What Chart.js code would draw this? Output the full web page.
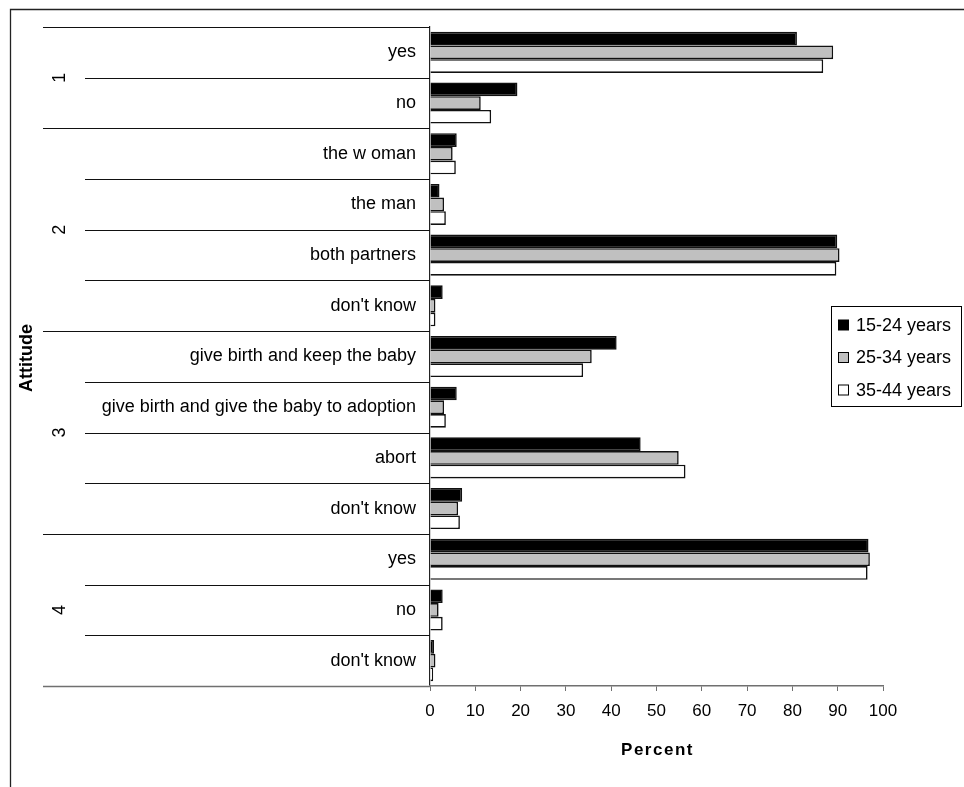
<!DOCTYPE html>
<html>
<head>
<meta charset="utf-8">
<title>Attitude by age group</title>
<script src="https://cdn.jsdelivr.net/npm/chart.js@4/dist/chart.umd.min.js"></script>
<style>
  html, body { margin: 0; padding: 0; background: #fff; }
  #wrap { position: relative; width: 964px; height: 787px; }
</style>
</head>
<body>
<div id="wrap"><canvas id="chart" width="964" height="787"></canvas></div>
<script>
// Answer categories, top to bottom
const categories = [
  'yes', 'no',
  'the w oman', 'the man', 'both partners', "don't know",
  'give birth and keep the baby', 'give birth and give the baby to adoption', 'abort', "don't know",
  'yes', 'no', "don't know"
];

// Question groups and how many answer categories each one spans
const groupNames = ['1', '2', '3', '4'];
const groupSizes = [2, 4, 4, 3];

// Share of respondents (%) per age group
const seriesNames = ['15-24 years', '25-34 years', '35-44 years'];
const age15to24 = [81.0, 19.3, 5.9, 2.1, 89.9, 2.8, 41.2, 5.9, 46.5, 7.1, 96.8, 2.8, 0.9];
const age25to34 = [89.0, 11.2, 5.0, 3.1, 90.4, 1.2, 35.7, 3.1, 54.9, 6.2, 97.1, 1.9, 1.2];
const age35to44 = [86.8, 13.5, 5.7, 3.5, 89.7, 1.2, 33.8, 3.5, 56.4, 6.6, 96.6, 2.8, 0.7];

// Percent axis ticks
const xTicks = [0, 10, 20, 30, 40, 50, 60, 70, 80, 90, 100];

const FONT = '"Liberation Sans", Arial, sans-serif';
const fills = ['#000000', '#c0c0c0', '#ffffff'];

// Frame, category separators, group labels, axis titles and legend
const decorations = {
  id: 'decorations',
  afterDraw(chart) {
    const ctx = chart.ctx;
    const area = chart.chartArea;
    const y = chart.scales.y;
    ctx.save();

    // outer frame (top and left edges)
    ctx.strokeStyle = '#222';
    ctx.lineWidth = 1.3;
    ctx.beginPath();
    ctx.moveTo(10.5, 787);
    ctx.lineTo(10.5, 9.5);
    ctx.lineTo(964, 9.5);
    ctx.stroke();
    ctx.lineWidth = 1;

    // boundaries between categories
    const boundary = i => {
      if (i <= 0) return area.top;
      if (i >= categories.length) return area.bottom;
      return (y.getPixelForValue(i - 1) + y.getPixelForValue(i)) / 2;
    };
    const groupStarts = [];
    let acc = 0;
    groupSizes.forEach(n => { groupStarts.push(acc); acc += n; });
    groupStarts.push(acc);

    for (let i = 0; i <= categories.length; i++) {
      const isGroupEdge = groupStarts.includes(i);
      const py = Math.round(boundary(i)) + 0.5;
      ctx.strokeStyle = (i === categories.length) ? '#707070' : '#111';
      ctx.lineWidth = (i === categories.length) ? 1.4 : 1.1;
      ctx.beginPath();
      ctx.moveTo(isGroupEdge ? 43 : 85, py);
      ctx.lineTo(area.left, py);
      ctx.stroke();
    }
    ctx.lineWidth = 1;

    // group labels, rotated
    ctx.fillStyle = '#000';
    ctx.font = '18px ' + FONT;
    ctx.textAlign = 'center';
    ctx.textBaseline = 'middle';
    groupNames.forEach((name, g) => {
      const cy = (boundary(groupStarts[g]) + boundary(groupStarts[g + 1])) / 2;
      ctx.save();
      ctx.translate(60, cy);
      ctx.rotate(-Math.PI / 2);
      ctx.fillText(name, 0, 0);
      ctx.restore();
    });

    // y axis title
    ctx.save();
    ctx.font = 'bold 18px ' + FONT;
    ctx.translate(27, 358);
    ctx.rotate(-Math.PI / 2);
    ctx.fillText('Attitude', 0, 0);
    ctx.restore();

    // x axis title
    ctx.save();
    ctx.font = 'bold 17px ' + FONT;
    ctx.letterSpacing = '1.5px';
    ctx.fillText('Percent', (area.left + area.right) / 2 + 1, 750);
    ctx.restore();

    // legend
    const lx = 831.5, ly = 306.5, lw = 130, lh = 100;
    ctx.fillStyle = '#fff';
    ctx.fillRect(lx, ly, lw, lh);
    ctx.strokeStyle = '#000';
    ctx.strokeRect(lx, ly, lw, lh);
    ctx.font = '18px ' + FONT;
    ctx.textAlign = 'left';
    ctx.textBaseline = 'middle';
    const rowY = [325, 357.5, 390];
    seriesNames.forEach((name, k) => {
      ctx.fillStyle = fills[k];
      ctx.fillRect(838.5, rowY[k] - 5, 10, 10);
      ctx.strokeStyle = '#000';
      ctx.strokeRect(838.5, rowY[k] - 5, 10, 10);
      ctx.fillStyle = '#000';
      ctx.fillText(name, 856, rowY[k] + 1);
    });

    ctx.restore();
  }
};

const seriesValues = [age15to24, age25to34, age35to44];

new Chart(document.getElementById('chart'), {
  type: 'bar',
  data: {
    labels: categories,
    datasets: seriesNames.map((name, k) => ({
      label: name,
      data: seriesValues[k],
      backgroundColor: fills[k],
      borderColor: '#111',
      borderWidth: 1.6,
      categoryPercentage: 0.81,
      barPercentage: 1.0
    }))
  },
  options: {
    indexAxis: 'y',
    responsive: false,
    animation: false,
    devicePixelRatio: 1,
    layout: { padding: { left: 0, top: 27, right: 81, bottom: 0 } },
    plugins: {
      legend: { display: false },
      tooltip: { enabled: false }
    },
    scales: {
      y: {
        type: 'category',
        grid: { display: false, drawTicks: false },
        border: { display: true, color: '#222', width: 1.2 },
        ticks: {
          color: '#000',
          font: { family: FONT, size: 18 },
          padding: 14,
          autoSkip: false
        },
        afterFit(scale) { scale.width = 430; }
      },
      x: {
        type: 'linear',
        min: 0,
        max: 100,
        afterBuildTicks(scale) { scale.ticks = xTicks.map(v => ({ value: v })); },
        grid: { display: true, drawOnChartArea: false, drawTicks: true, tickLength: 5, color: '#707070' },
        border: { display: true, color: '#707070', width: 1.4 },
        ticks: {
          color: '#000',
          font: { family: FONT, size: 17 },
          padding: 10,
          maxRotation: 0
        },
        afterFit(scale) { scale.height = 101; }
      }
    }
  },
  plugins: [decorations]
});
</script>
</body>
</html>
